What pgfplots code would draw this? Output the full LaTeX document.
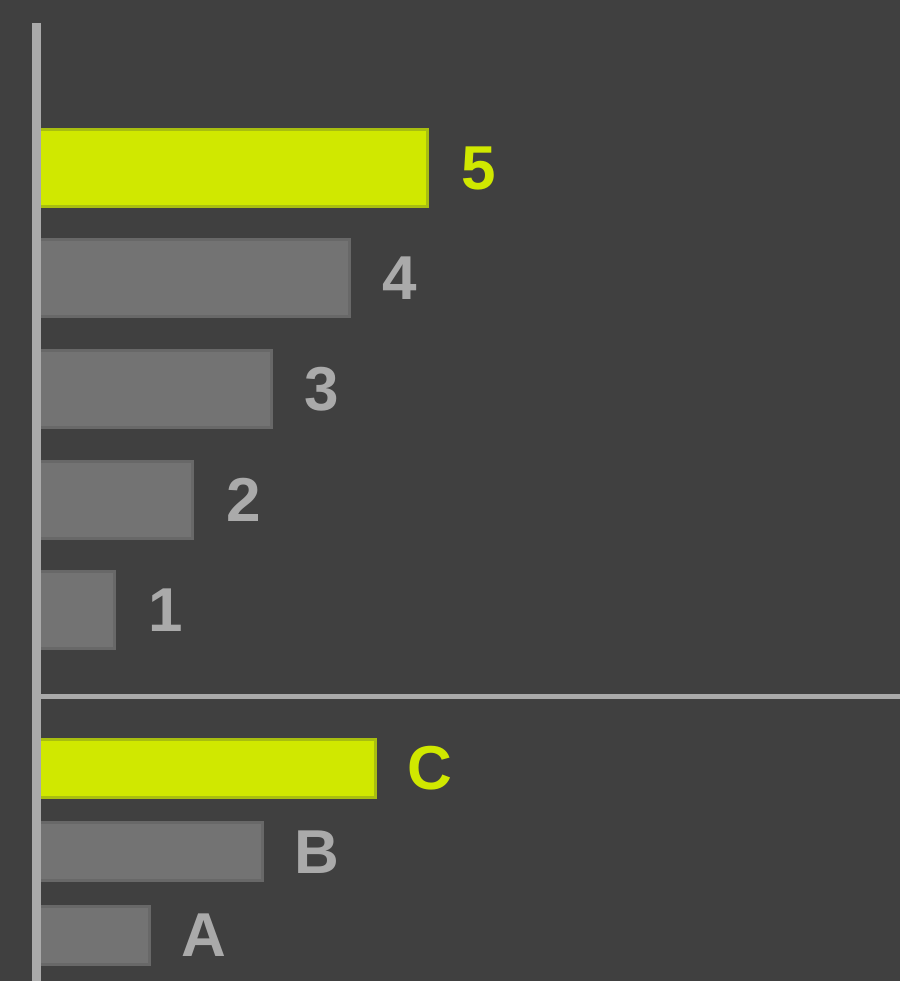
\documentclass[border=0pt]{standalone}
\usepackage{fontspec}
\setmainfont{Liberation Sans}
\usepackage{pgfplots}
\pgfplotsset{compat=1.18}

\definecolor{bg}{HTML}{404040}
\definecolor{axisgray}{HTML}{AAAAAA}
\definecolor{bargray}{HTML}{737373}
\definecolor{bargrayedge}{HTML}{686868}
\definecolor{hi}{HTML}{D0E800}
\definecolor{hiedge}{HTML}{A8BE10}
\definecolor{labgray}{HTML}{AAAAAA}

\pgfplotsset{
  panel/.style={
    anchor=south west, scale only axis,
    width=431.75pt, xmin=0,
    axis y line=left,
    y axis line style={-, line width=4.5pt, color=axisgray},
    xtick=\empty, ytick=\empty,
    xbar, bar shift=0pt,
    axis on top, clip=false,
    /pgf/number format/assume math mode=true,
    every node near coord/.append style={
      anchor=west, inner sep=0pt, xshift=16pt,
      font=\fontsize{31}{31}\selectfont\bfseries},
  },
  plain bar/.style={fill=bargray, draw=bargrayedge, line width=1.5pt,
    nodes near coords, every node near coord/.append style={text=labgray}},
  hi bar/.style={fill=hi, draw=hiedge, line width=1.5pt,
    nodes near coords, every node near coord/.append style={text=hi}},
}

\begin{document}
\begin{tikzpicture}
\fill[bg] (0,0) rectangle (450pt,490.5pt);
\useasboundingbox (0,0) rectangle (450pt,490.5pt);

% upper panel: 1 to 5
\begin{axis}[panel,
    at={(18.25pt,142pt)}, height=337pt,
    xmax=11.04, ymin=0.213, ymax=6.312,
    axis x line=bottom,
    x axis line style={-, line width=2.5pt, color=axisgray},
    bar width=38.5pt]
  \addplot[plain bar] coordinates {(1,1) (2,2) (3,3) (4,4)};
  \addplot[hi bar] coordinates {(5,5)};
\end{axis}

% lower panel: A, B, C
\begin{axis}[panel,
    at={(18.25pt,0pt)}, height=142pt,
    xmax=7.64, ymin=0.455, ymax=3.856,
    axis x line=none,
    bar width=29pt,
    point meta=explicit symbolic,
    every node near coord/.append style={xshift=-1pt}]
  \addplot[plain bar] coordinates {(1,1) [A] (2,2) [B]};
  \addplot[hi bar] coordinates {(3,3) [C]};
\end{axis}
\end{tikzpicture}
\end{document}
